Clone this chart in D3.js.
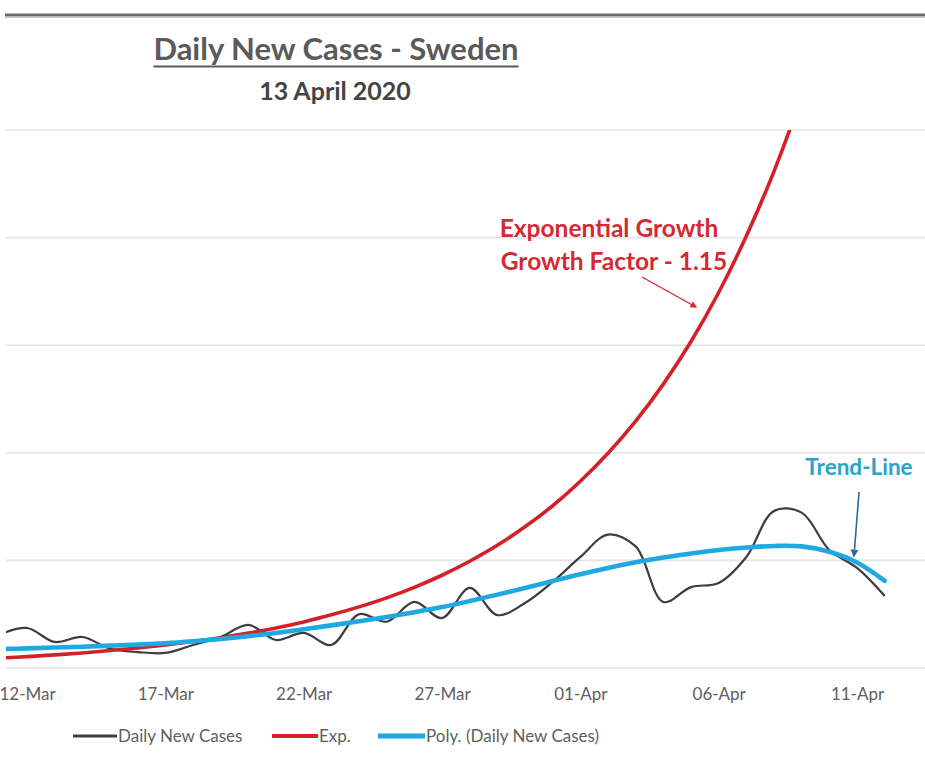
<!DOCTYPE html>
<html>
<head>
<meta charset="utf-8">
<script src="https://cdn.jsdelivr.net/npm/d3@7"></script>
<style>
  html, body { margin: 0; padding: 0; background: #ffffff; }
  svg { display: block; font-family: Lato, "Open Sans", sans-serif; }
</style>
</head>
<body>
<svg id="chart" width="925" height="765"></svg>
<script>
// Days shown on the chart (2020)
const dayLabels = [
  "11-Mar","12-Mar","13-Mar","14-Mar","15-Mar","16-Mar","17-Mar","18-Mar","19-Mar","20-Mar",
  "21-Mar","22-Mar","23-Mar","24-Mar","25-Mar","26-Mar","27-Mar","28-Mar","29-Mar","30-Mar",
  "31-Mar","01-Apr","02-Apr","03-Apr","04-Apr","05-Apr","06-Apr","07-Apr","08-Apr","09-Apr",
  "10-Apr","11-Apr","12-Apr"
];

// Reported daily new cases
const dailyNewCases = [
  155, 186, 121, 144, 90, 74, 70, 107, 144, 200,
  130, 163, 107, 250, 215, 307, 232, 372, 246, 302,
  400, 516, 620, 565, 307, 376, 395, 516, 730, 722,
  548, 465, 335
];

// Exponential curve, growth factor 1.15 per day (11-Mar .. 09-Apr)
const expGrowth = [
  46, 53, 61, 70, 81, 93, 107, 123, 141, 162,
  186, 214, 247, 284, 326, 375, 431, 496, 570, 656,
  754, 868, 998, 1147, 1319, 1517, 1745, 2007, 2308, 2654
];

// Polynomial trend of the daily new cases
const polyTrend = [
  88, 91, 95, 99, 104, 109, 115, 124, 135, 148,
  163, 180, 198, 217, 237, 259, 283, 311, 341, 372,
  404, 436, 465, 491, 513, 532, 548, 560, 567, 565,
  540, 490, 405
];

const xTickLabels = ["12-Mar","17-Mar","22-Mar","27-Mar","01-Apr","06-Apr","11-Apr"];
const yGridValues = [0, 500, 1000, 1500, 2000, 2500];

const legendItems = [
  { label: "Daily New Cases", key: "daily" },
  { label: "Exp.", key: "exp" },
  { label: "Poly. (Daily New Cases)", key: "poly" }
];

const colors = { daily: "#3d3d3d", exp: "#d3202b", poly: "#1ea9e1" };
const widths = { daily: 2.2, exp: 3.6, poly: 4.6 };

const parseDay = s => d3.timeParse("%d-%b-%Y")(s + "-2020");
const days = dayLabels.map(parseDay);

const svg = d3.select("#chart");
svg.append("rect").attr("width", 925).attr("height", 765).attr("fill", "#fff");

// Plot geometry
const plotLeft = 6, plotRight = 925, plotTop = 130, plotBottom = 668;

const x = d3.scaleTime()
  .domain([parseDay("12-Mar"), parseDay("11-Apr")])
  .range([27, 857]);

const y = d3.scaleLinear()
  .domain([0, 2500])
  .range([plotBottom, plotTop]);

// Heavy rule across the top
svg.append("line")
  .attr("x1", 5).attr("x2", 925).attr("y1", 15).attr("y2", 15)
  .attr("stroke", "#6e6e6e").attr("stroke-width", 3);
svg.append("line")
  .attr("x1", 5).attr("x2", 925).attr("y1", 17.5).attr("y2", 17.5)
  .attr("stroke", "#c8c8c8").attr("stroke-width", 1.2);

// Horizontal gridlines
svg.append("g")
  .selectAll("line")
  .data(yGridValues)
  .join("line")
  .attr("x1", plotLeft).attr("x2", plotRight)
  .attr("y1", d => y(d)).attr("y2", d => y(d))
  .attr("stroke", "#e4e4e4").attr("stroke-width", 1.6);

// Clip region for the series
svg.append("clipPath").attr("id", "plotClip")
  .append("rect")
  .attr("x", plotLeft).attr("y", plotTop)
  .attr("width", plotRight - plotLeft).attr("height", plotBottom - plotTop + 4);

const plot = svg.append("g").attr("clip-path", "url(#plotClip)");

const smooth = d3.line()
  .x(d => x(d.date))
  .y(d => y(d.value))
  .curve(d3.curveCatmullRom.alpha(0.5));

const toPoints = arr => arr.map((v, i) => ({ date: days[i], value: v }));

plot.append("path")
  .datum(toPoints(dailyNewCases))
  .attr("d", smooth)
  .attr("fill", "none")
  .attr("stroke", colors.daily)
  .attr("stroke-width", widths.daily)
  .attr("stroke-linejoin", "round");

plot.append("path")
  .datum(toPoints(expGrowth))
  .attr("d", smooth)
  .attr("fill", "none")
  .attr("stroke", colors.exp)
  .attr("stroke-width", widths.exp);

plot.append("path")
  .datum(toPoints(polyTrend))
  .attr("d", smooth)
  .attr("fill", "none")
  .attr("stroke", colors.poly)
  .attr("stroke-width", widths.poly)
  .attr("stroke-linecap", "round");

// X axis labels
const xAxis = d3.axisBottom(x)
  .tickValues(xTickLabels.map(parseDay))
  .tickFormat(d3.timeFormat("%d-%b"))
  .tickSize(0)
  .tickPadding(20);

const axisG = svg.append("g")
  .attr("transform", `translate(0,${plotBottom})`)
  .call(xAxis);
axisG.select(".domain").remove();
axisG.selectAll("text")
  .attr("fill", "#606060")
  .style("font-family", "Lato, sans-serif")
  .style("font-size", "17px");

// Titles
const title = svg.append("text")
  .attr("x", 336).attr("y", 60)
  .attr("text-anchor", "middle")
  .attr("fill", "#5a5a5a")
  .style("font-size", "31px")
  .style("font-weight", "bold")
  .text("Daily New Cases - Sweden");
const tb = title.node().getBBox();
svg.append("line")
  .attr("x1", tb.x).attr("x2", tb.x + tb.width)
  .attr("y1", 66.5).attr("y2", 66.5)
  .attr("stroke", "#5a5a5a").attr("stroke-width", 2);

svg.append("text")
  .attr("x", 335).attr("y", 100)
  .attr("text-anchor", "middle")
  .attr("fill", "#444")
  .style("font-size", "25px")
  .style("font-weight", "bold")
  .text("13 April 2020");

// Exponential growth annotation
const redNote = svg.append("text")
  .attr("fill", "#d32a33")
  .style("font-size", "24.5px")
  .style("font-weight", "bold")
  .attr("text-anchor", "middle");
redNote.append("tspan").attr("x", 609).attr("y", 237).text("Exponential Growth");
redNote.append("tspan").attr("x", 614).attr("y", 270).text("Growth Factor - 1.15");

const defs = svg.append("defs");
defs.append("marker").attr("id", "headRed")
  .attr("viewBox", "0 0 10 10").attr("refX", 8).attr("refY", 5)
  .attr("markerWidth", 5).attr("markerHeight", 5).attr("orient", "auto")
  .append("path").attr("d", "M0,0 L10,5 L0,10 z").attr("fill", "#d32a33");
defs.append("marker").attr("id", "headBlue")
  .attr("viewBox", "0 0 10 10").attr("refX", 8).attr("refY", 5)
  .attr("markerWidth", 5).attr("markerHeight", 5).attr("orient", "auto")
  .append("path").attr("d", "M0,0 L10,5 L0,10 z").attr("fill", "#2f6a9a");

svg.append("line")
  .attr("x1", 642).attr("y1", 277).attr("x2", 696).attr("y2", 307)
  .attr("stroke", "#d32a33").attr("stroke-width", 1.4)
  .attr("marker-end", "url(#headRed)");

// Trend-line annotation
svg.append("text")
  .attr("x", 859).attr("y", 475)
  .attr("text-anchor", "middle")
  .attr("fill", "#29a3cc")
  .style("font-size", "22.5px")
  .style("font-weight", "bold")
  .text("Trend-Line");

svg.append("line")
  .attr("x1", 859).attr("y1", 492).attr("x2", 854).attr("y2", 556)
  .attr("stroke", "#2f6a9a").attr("stroke-width", 1.6)
  .attr("marker-end", "url(#headBlue)");

// Legend
const legendPos = { daily: [73, 117], exp: [272, 318], poly: [378, 425] };
const legend = svg.append("g");
legendItems.forEach(item => {
  const [x0, x1] = legendPos[item.key];
  legend.append("line")
    .attr("x1", x0).attr("x2", x1).attr("y1", 736).attr("y2", 736)
    .attr("stroke", colors[item.key])
    .attr("stroke-width", Math.min(widths[item.key] + 0.6, 5));
  legend.append("text")
    .attr("x", x1 + 1).attr("y", 742)
    .attr("fill", "#606060")
    .style("font-size", "17px")
    .text(item.label);
});
</script>
</body>
</html>
